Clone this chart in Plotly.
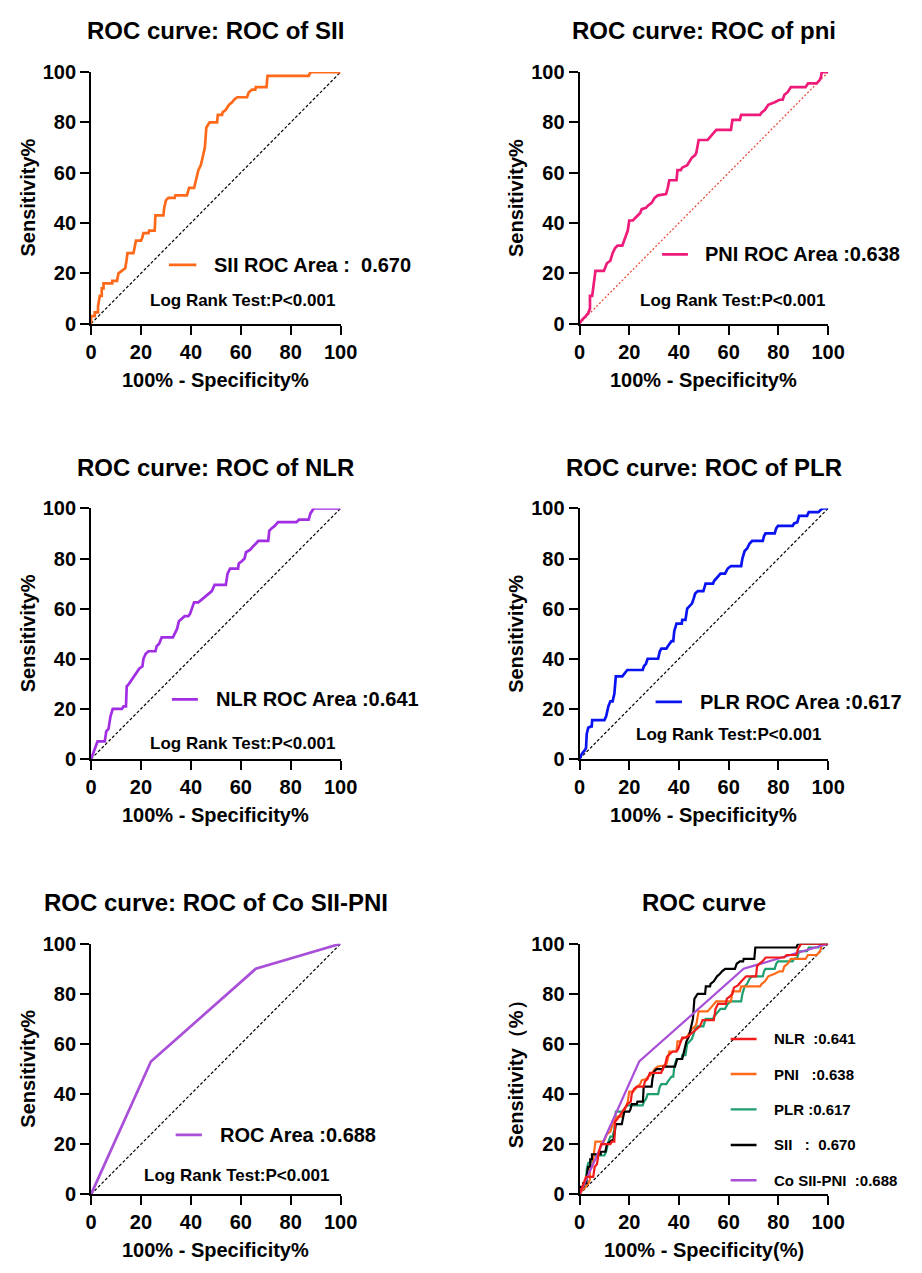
import plotly.graph_objects as go

# ROC curve vertices: (100% - specificity, sensitivity)
sii_fpr = [0, 0, 1.5, 1.5, 2.8, 2.8, 3.5, 4.3, 4.3, 5, 5, 8.5, 8.5, 10.4, 11, 12.4, 13.7, 14.2, 14.6, 17,
           17.5, 18, 20, 20.5, 21, 23, 23.3, 25.5, 25.8, 29, 29.3, 30, 31, 33.5, 33.8, 38.4, 39, 39.3, 41.3,
           42, 43, 44, 45, 45.6, 46.2, 47.5, 50.5, 50.8, 52.5, 52.7, 54, 55.3, 56.5, 57.3, 58.6, 62.5, 63.2,
           64.5, 65.8, 66, 70.3, 70.7, 87.2, 87.9, 100]
sii_tpr = [0, 3, 3, 4.5, 4.5, 7, 11, 11, 14, 14, 16, 16, 17, 17, 20, 21, 22, 25, 28, 28,
           30, 33, 33, 34, 36, 36, 37, 37, 43, 43, 46, 49, 50, 50, 51, 51, 53, 54, 54,
           57, 61, 63, 67, 70, 78, 80, 80, 83, 83, 84, 85, 87, 88, 89, 90, 90, 92,
           93, 93, 94, 94, 98.5, 98.5, 100, 100]

pni_fpr = [0, 1, 2.5, 3.5, 4.2, 4.2, 5.1, 5.7, 6.4, 9.8, 10.3, 11, 12.4, 13.3, 14.3, 15.3, 17.2, 17.9,
           18.9, 19.4, 20, 21.5, 22.4, 23.3, 24.4, 25, 26.7, 27.6, 29, 29.6, 30.2, 31.5, 34.8, 35.5, 36.1,
           39, 39.4, 40.7, 41.3, 43.3, 44, 45.2, 46.5, 47, 47.9, 51.5, 52.4, 53.3, 54.4, 55, 60.9, 61.5,
           64.5, 65, 72.6, 73.3, 74.6, 75.9, 78.5, 80.4, 81.7, 82.4, 83.7, 85, 90.9, 91.9, 95.4, 96.7,
           97.1, 97.4, 100]
pni_tpr = [0, 1.5, 3, 4.2, 6, 11, 11, 17, 21, 21, 22.5, 24, 25, 28, 30, 31, 31, 33,
           35, 37, 41, 41, 42, 43, 44, 45.5, 46, 47, 48, 49, 50, 51, 51.5, 54, 57,
           57, 61, 61, 62, 63, 64, 66, 67, 68, 73, 73, 74, 75, 76, 77, 77, 81,
           81, 83, 83, 84, 85, 87, 88, 89, 89, 91, 92, 94, 94, 95.5, 95.5, 97,
           98, 100, 100]

nlr_fpr = [0, 0.7, 1.6, 2.6, 5.5, 6.1, 7, 7.8, 8.7, 12.4, 13, 14, 14.3, 15.2, 16.3, 17.3, 18.2, 19.3,
           20.6, 21, 21.9, 23, 25.8, 26.3, 27.3, 28.3, 32.8, 33.6, 34.5, 35.2, 36.5, 37.5, 39, 39.7, 40.4,
           41.3, 43, 43.6, 45, 46.2, 47.5, 48.4, 49.5, 54, 54.7, 55.7, 58.9, 59.2, 60.5, 61.5, 62.1, 63.8,
           65.1, 67, 71, 71.4, 72.3, 73.6, 74.9, 82.3, 83.3, 87.2, 87.9, 88.5, 89.2, 100]
nlr_tpr = [0, 2.3, 4.3, 7, 7, 11, 12, 17, 20, 20, 21, 21, 29, 30, 31.5, 33, 34, 36,
           37, 40, 42, 43, 43, 45, 46, 48.5, 48.5, 50, 52, 55, 56, 57, 57, 58, 60,
           62.5, 62.5, 63, 64, 65, 66, 67, 69.5, 69.5, 74, 76, 76, 78, 79, 80, 82.5, 83.5,
           85, 87, 87, 91, 92, 93, 94.5, 94.5, 95.5, 95.5, 98, 99, 100, 100]

plr_fpr = [0, 0.9, 2, 2.6, 2.9, 3.5, 4.6, 4.9, 5.1, 10, 10.7, 11.6, 12.4, 13.3, 14, 14.6, 17.2, 17.9,
           19.2, 25.4, 25.9, 26.7, 27.4, 31.6, 32.3, 32.9, 34.9, 35.5, 36.1, 37, 37.7, 38.1, 39, 41.1,
           41.3, 42.6, 43.3, 44.3, 45.2, 45.9, 46.5, 47.6, 49.8, 50.7, 53.7, 54.1, 55, 55.7, 56.7, 58.5,
           59.6, 60.9, 65, 65.5, 66.4, 67.4, 68.4, 69.4, 73.7, 74.2, 74.8, 78.5, 79.1, 79.8, 85.7, 86.3,
           87.6, 88.3, 91.5, 92.2, 96.1, 97.1, 98, 100]
plr_tpr = [0, 2, 3.3, 4.3, 10, 12.5, 13, 13, 15.5, 15.5, 17, 21, 23, 23, 26, 33, 33, 34,
           35.5, 35.5, 37, 38, 40, 40, 43, 44, 44, 45, 46, 47, 47, 51, 54, 54,
           55.5, 55.5, 60, 61, 62, 64, 66, 67, 67, 70, 70, 71, 72, 73, 74, 74,
           76, 77, 77, 80, 83, 84, 86, 87, 87, 89, 90, 90, 92, 93, 93, 94,
           94.5, 97, 97, 98.5, 98.5, 99.5, 100, 100]

co_fpr = [0, 24, 66, 100]
co_tpr = [0, 53, 90, 100]

ref_line = [0, 100]
ticks = [0, 20, 40, 60, 80, 100]

FONT = "Liberation Sans, Arial, Helvetica, sans-serif"
W, H = 922, 1273
OFF = 8  # default body margin of the page


def px_x(p):
    return (p - OFF) / W


def px_y(p):
    return 1 - (p - OFF) / H


# plot areas in page pixels
cols = [(87, 343), (588, 843)]
rows = [(62, 318), (506, 761), (949, 1204)]
title_rows = [20, 464, 907]

fig = go.Figure()
annotations = []
shapes = []


def setup_axes(i, col, row, xtitle, ytitle, title):
    l, r = cols[col]
    t, b = rows[row]
    ax = dict(range=[0, 100], tickvals=ticks, showgrid=False, zeroline=False,
              showline=True, linecolor="black", linewidth=2, ticks="outside",
              ticklen=9, tickwidth=2, tickcolor="black",
              tickfont=dict(family=FONT, size=20, color="black", weight="bold"))
    fig.layout[f"xaxis{i}"] = dict(ax, domain=[px_x(l), px_x(r)], anchor=f"y{i}")
    fig.layout[f"yaxis{i}"] = dict(ax, domain=[px_y(b), px_y(t)], anchor=f"x{i}")
    cx = px_x((l + r) / 2)
    annotations.append(dict(text=f"<b>{title}</b>", x=cx, y=px_y(title_rows[row]), xref="paper",
                            yref="paper", showarrow=False, xanchor="center", yanchor="middle",
                            font=dict(family=FONT, size=24, color="black")))
    annotations.append(dict(text=f"<b>{xtitle}</b>", x=cx, y=px_y(b + 57), xref="paper",
                            yref="paper", showarrow=False, xanchor="center", yanchor="middle",
                            font=dict(family=FONT, size=20, color="black")))
    annotations.append(dict(text=f"<b>{ytitle}</b>", x=px_x(l - 65), y=px_y((t + b) / 2),
                            xref="paper", yref="paper", showarrow=False, textangle=-90,
                            xanchor="center", yanchor="middle",
                            font=dict(family=FONT, size=20, color="black")))


def add_diag(i, color="black", dash="3px,2px"):
    fig.add_trace(go.Scatter(x=ref_line, y=ref_line, mode="lines", xaxis=f"x{i}", yaxis=f"y{i}",
                             line=dict(color=color, width=1.2, dash=dash), showlegend=False,
                             hoverinfo="skip"))


def add_curve(i, xs, ys, color, width=2.7):
    fig.add_trace(go.Scatter(x=xs, y=ys, mode="lines", xaxis=f"x{i}", yaxis=f"y{i}",
                             line=dict(color=color, width=width), showlegend=False, cliponaxis=False))


def add_key(i, x0, x1, y, tx, label, color, size=20, width=2.8):
    shapes.append(dict(type="line", xref=f"x{i}", yref=f"y{i}", x0=x0, x1=x1, y0=y, y1=y,
                       line=dict(color=color, width=width)))
    annotations.append(dict(text=f"<b>{label}</b>", x=tx, y=y, xref=f"x{i}", yref=f"y{i}",
                            showarrow=False, xanchor="left", yanchor="middle",
                            font=dict(family=FONT, size=size, color="black")))


def add_logrank(i, x, y):
    annotations.append(dict(text="<b>Log Rank Test:P<0.001</b>", x=x, y=y, xref=f"x{i}", yref=f"y{i}",
                            showarrow=False, xanchor="center", yanchor="middle",
                            font=dict(family=FONT, size=17, color="black")))


SII_C = "#FF6A1A"
PNI_C = "#EE1B7A"
NLR_C = "#A22EE4"
PLR_C = "#0A14F2"
CO_C = "#A94FD8"

# Panel 1: SII
setup_axes(1, 0, 0, "100% - Specificity%", "Sensitivity%", "ROC curve: ROC of SII")
add_diag(1)
add_curve(1, sii_fpr, sii_tpr, SII_C)
add_key(1, 31.2, 42.2, 23.4, 48.4, "SII ROC Area :\u00a0\u00a00.670", SII_C)
add_logrank(1, 60.5, 9.0)

# Panel 2: PNI
setup_axes(2, 1, 0, "100% - Specificity%", "Sensitivity%", "ROC curve: ROC of pni")
add_diag(2, color="#E8452F", dash="2px,2px")
add_curve(2, pni_fpr, pni_tpr, PNI_C)
add_key(2, 33.2, 43.6, 27.5, 49.7, "PNI ROC Area :0.638", PNI_C)
add_logrank(2, 61.6, 9.3)

# Panel 3: NLR
setup_axes(3, 0, 1, "100% - Specificity%", "Sensitivity%", "ROC curve: ROC of NLR")
add_diag(3)
add_curve(3, nlr_fpr, nlr_tpr, NLR_C)
add_key(3, 32.4, 42.8, 23.8, 49.3, "NLR ROC Area :0.641", NLR_C)
add_logrank(3, 60.5, 6.3)

# Panel 4: PLR
setup_axes(4, 1, 1, "100% - Specificity%", "Sensitivity%", "ROC curve: ROC of PLR")
add_diag(4)
add_curve(4, plr_fpr, plr_tpr, PLR_C)
add_key(4, 30.6, 41.2, 22.8, 47.5, "PLR ROC Area :0.617", PLR_C)
add_logrank(4, 60.0, 9.8)

# Panel 5: combined SII-PNI
setup_axes(5, 0, 2, "100% - Specificity%", "Sensitivity%", "ROC curve: ROC of Co SII-PNI")
add_diag(5)
add_curve(5, co_fpr, co_tpr, CO_C)
add_key(5, 33.9, 44.4, 23.7, 50.7, "ROC Area :0.688", CO_C)
add_logrank(5, 58.3, 7.4)

# Panel 6: all curves together
setup_axes(6, 1, 2, "100% - Specificity(%)", "Sensitivity（%）", "ROC curve")
add_diag(6)
add_curve(6, plr_fpr, plr_tpr, "#1F9E6E", 2.2)
add_curve(6, pni_fpr, pni_tpr, SII_C, 2.2)
add_curve(6, sii_fpr, sii_tpr, "black", 2.2)
add_curve(6, co_fpr, co_tpr, CO_C, 2.2)
add_curve(6, nlr_fpr, nlr_tpr, "#F21A1A", 2.2)
add_key(6, 60.8, 71.2, 62.0, 77.6, "NLR\u00a0\u00a0:0.641", "#F21A1A", 15, 2.4)
add_key(6, 60.8, 71.2, 48.0, 77.6, "PNI\u00a0\u00a0\u00a0:0.638", SII_C, 15, 2.4)
add_key(6, 60.8, 71.2, 33.9, 77.6, "PLR :0.617", "#1F9E6E", 15, 2.4)
add_key(6, 60.8, 71.2, 19.7, 77.6, "SII\u00a0\u00a0\u00a0:\u00a0\u00a00.670", "black", 15, 2.4)
add_key(6, 60.8, 71.2, 5.6, 77.6, "Co SII-PNI\u00a0\u00a0:0.688", CO_C, 15, 2.4)

fig.update_layout(
    width=W, height=H,
    margin=dict(l=0, r=0, t=0, b=0),
    plot_bgcolor="white", paper_bgcolor="white",
    showlegend=False,
    font=dict(family=FONT, color="black"),
    annotations=annotations,
    shapes=shapes,
)

fig.write_html("out.html")
